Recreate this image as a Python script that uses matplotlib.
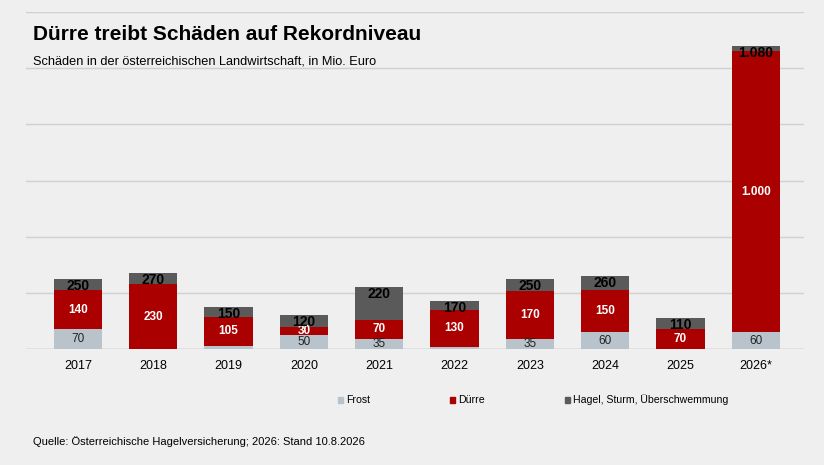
import matplotlib.pyplot as plt
import numpy as np

plt.rcParams['font.family'] = ['Liberation Sans', 'DejaVu Sans']

years = ['2017', '2018', '2019', '2020', '2021', '2022', '2023', '2024', '2025', '2026*']
frost = [70, 0, 10, 50, 35, 8, 35, 60, 0, 60]
duerre = [140, 230, 105, 30, 70, 130, 170, 150, 70, 1000]
totals = [250, 270, 150, 120, 220, 170, 250, 260, 110, 1080]
frost_labels = ['70', '', '', '50', '35', '', '35', '60', '', '60']
duerre_labels = ['140', '230', '105', '30', '70', '130', '170', '150', '70', '1.000']
total_labels = ['250', '270', '150', '120', '220', '170', '250', '260', '110', '1.080']

hagel = [t - f - d for t, f, d in zip(totals, frost, duerre)]

c_frost = '#b9c3cc'
c_duerre = '#aa0000'
c_hagel = '#5a5a5a'
bg = '#efefef'

fig = plt.figure(figsize=(8.24, 4.65), dpi=100, facecolor=bg)
ax = fig.add_axes([26/824, 1-349/465, 778/824, 337/465], facecolor=bg)
x = np.arange(len(years))
w = 0.64
f = np.array(frost); d = np.array(duerre); h = np.array(hagel)
ax.bar(x, f, w, color=c_frost, zorder=3)
ax.bar(x, d, w, bottom=f, color=c_duerre, zorder=3)
ax.bar(x, h, w, bottom=f + d, color=c_hagel, zorder=3)

for i in range(len(years)):
    if frost_labels[i]:
        ax.text(x[i], f[i] / 2, frost_labels[i], ha='center', va='center',
                fontsize=8.5, color='#222222', zorder=4)
    ax.text(x[i], f[i] + d[i] / 2, duerre_labels[i], ha='center', va='center',
            fontsize=8.5, color='white', fontweight='bold', zorder=4)
    ax.annotate(total_labels[i], (x[i], totals[i]), xytext=(0, 0), textcoords='offset points',
                ha='center', va='top', fontsize=10, fontweight='bold', color='black', zorder=4)

ax.set_xlim(-0.69, 9.64)
ax.set_ylim(0, 1200)
ax.set_yticks(range(0, 1201, 200))
ax.yaxis.grid(True, color='#d0d0d0', lw=1, zorder=0)
ax.tick_params(axis='y', left=False, labelleft=False)
ax.tick_params(axis='x', length=0, labelsize=9, pad=8)
ax.set_xticks(x)
ax.set_xticklabels(years)
for s in ax.spines.values():
    s.set_visible(False)
ax.axhline(0, color='#c8c8c8', lw=1, zorder=2)

fig.text(33/824, 1-34/465, 'Dürre treibt Schäden auf Rekordniveau', fontsize=15,
         fontweight='bold', va='center')
fig.text(33/824, 1-61/465, 'Schäden in der österreichischen Landwirtschaft, in Mio. Euro',
         fontsize=9.2, va='center')

for lx, col, lab in [(338, c_frost, 'Frost'), (450, c_duerre, 'Dürre'),
                     (565, c_hagel, 'Hagel, Sturm, Überschwemmung')]:
    fig.patches.append(plt.Rectangle((lx/824, 1-403/465), 5/824, 6/465,
                                     transform=fig.transFigure, color=col))
    fig.text((lx+8)/824, 1-400/465, lab, fontsize=7.6, va='center')

fig.text(33/824, 1-442/465, 'Quelle: Österreichische Hagelversicherung; 2026: Stand 10.8.2026',
         fontsize=8, va='center')

fig.savefig('out.png', dpi=100, facecolor=bg)
